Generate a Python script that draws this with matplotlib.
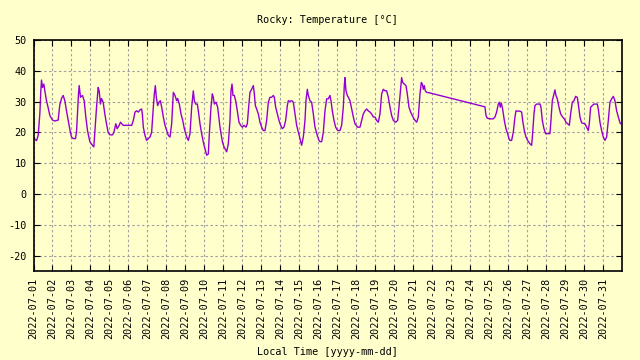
import matplotlib
matplotlib.use("Agg")
import matplotlib.pyplot as plt
import matplotlib.dates as mdates
import matplotlib.ticker as mticker
import pandas as pd

# fractional days since 2022-07-01 00:00 (local time)
day_offset = [
    0.000, 0.070, 0.158, 0.246, 0.333, 0.386, 0.421, 0.474, 0.544, 0.596, 0.684, 0.772, 0.860,
    1.000, 1.123, 1.298, 1.386, 1.474, 1.561, 1.649, 1.737, 1.825, 1.912,
    2.000, 2.088, 2.211, 2.263, 2.316, 2.368, 2.404, 2.474, 2.579, 2.667, 2.754, 2.842, 2.965,
    3.105, 3.175, 3.246, 3.316, 3.404, 3.456, 3.526, 3.579, 3.667, 3.754, 3.842, 3.930,
    4.018, 4.158, 4.228, 4.333, 4.404, 4.509, 4.579, 4.719, 4.982,
    5.167, 5.255, 5.342, 5.430, 5.518, 5.605, 5.693, 5.728, 5.781, 5.869, 5.956,
    6.044, 6.132, 6.219, 6.307, 6.360, 6.412, 6.465, 6.535, 6.605, 6.676, 6.746, 6.834, 6.921,
    7.009, 7.097, 7.184, 7.272, 7.360, 7.447, 7.535, 7.588, 7.676, 7.763, 7.851, 7.939,
    8.062, 8.149, 8.237, 8.325, 8.412, 8.465, 8.535, 8.623, 8.675, 8.763, 8.851, 8.956,
    9.027, 9.114, 9.202, 9.255, 9.342, 9.412, 9.465, 9.518, 9.605, 9.693, 9.816, 9.939,
    10.027, 10.079, 10.167, 10.255, 10.342, 10.395, 10.448, 10.500, 10.570, 10.640, 10.728, 10.816, 10.904, 10.991,
    11.079, 11.184, 11.254, 11.325, 11.395, 11.483, 11.570, 11.623, 11.676, 11.746, 11.834, 11.921,
    12.009, 12.097, 12.184, 12.272, 12.360, 12.447, 12.535, 12.623, 12.676, 12.746, 12.834, 12.921,
    13.009, 13.097, 13.184, 13.272, 13.360, 13.412, 13.500, 13.588, 13.676, 13.763, 13.851, 13.939,
    14.027, 14.114, 14.202, 14.290, 14.342, 14.412, 14.465, 14.553, 14.640, 14.728, 14.816, 14.939,
    15.027, 15.079, 15.167, 15.255, 15.342, 15.430, 15.518, 15.605, 15.658, 15.728, 15.816, 15.904,
    16.009, 16.132, 16.219, 16.307, 16.360, 16.395, 16.447, 16.518, 16.570, 16.658, 16.746, 16.834, 16.921,
    17.061, 17.184, 17.272, 17.360, 17.447, 17.535, 17.623, 17.711, 17.798, 17.886, 17.974,
    18.061, 18.149, 18.237, 18.325, 18.412, 18.500, 18.588, 18.676, 18.763, 18.851, 18.939,
    19.061, 19.167, 19.237, 19.325, 19.377, 19.430, 19.518, 19.605, 19.675, 19.763, 19.851, 19.939,
    20.027, 20.079, 20.167, 20.255, 20.342, 20.412, 20.465, 20.518, 20.570, 20.623, 20.693, 20.868,
    23.763, 23.816, 23.886, 24.027, 24.202, 24.290, 24.377, 24.465, 24.518, 24.570, 24.623, 24.693, 24.781, 24.868, 24.956,
    25.027, 25.079, 25.167, 25.255, 25.342, 25.395, 25.483, 25.605, 25.693, 25.746, 25.834, 25.921,
    26.009, 26.132, 26.219, 26.272, 26.342, 26.395, 26.483, 26.570, 26.658, 26.711, 26.781, 26.868, 26.956,
    27.184, 27.237, 27.307, 27.395, 27.447, 27.500, 27.570, 27.658, 27.746, 27.851, 27.939,
    28.027, 28.114, 28.202, 28.272, 28.360, 28.447, 28.535, 28.623, 28.675, 28.763, 28.851,
    29.027, 29.114, 29.202, 29.254, 29.325, 29.412, 29.500, 29.588, 29.676, 29.728, 29.816, 29.904, 29.991,
    30.079, 30.167, 30.255, 30.342, 30.430, 30.518, 30.605, 30.693, 30.781, 30.869, 30.921,
]

temperature = [
    18.5, 17.8, 17.3, 19.0, 26.0, 33.5, 37.0, 34.6, 35.7, 33.5, 30.3, 28.0, 25.5,
    24.0, 23.7, 24.0, 29.0, 31.0, 32.0, 30.3, 27.0, 24.0, 21.0,
    18.5, 18.0, 18.0, 20.0, 26.0, 32.5, 35.2, 31.4, 32.0, 30.3, 25.0, 20.6, 17.0,
    15.8, 15.3, 21.7, 28.0, 34.6, 33.5, 29.2, 31.0, 29.8, 26.0, 22.8, 20.0,
    19.2, 19.2, 20.0, 22.8, 21.2, 22.3, 23.3, 22.3, 22.3,
    22.3, 23.9, 26.6, 27.0, 26.6, 27.3, 27.6, 26.0, 21.7, 19.0, 17.4,
    18.0, 18.5, 20.1, 28.2, 32.5, 35.2, 31.4, 28.7, 29.8, 30.3, 28.2, 25.0, 22.3,
    20.6, 19.0, 18.5, 22.8, 33.0, 32.0, 30.3, 31.0, 29.2, 26.0, 24.0, 21.2,
    18.5, 17.4, 19.6, 28.2, 33.5, 30.3, 29.2, 29.2, 27.0, 22.8, 19.6, 16.3,
    14.7, 12.6, 13.0, 19.6, 28.2, 32.5, 31.4, 29.2, 29.8, 28.2, 21.7, 17.0,
    15.3, 14.7, 13.7, 16.3, 24.0, 33.5, 35.7, 32.0, 32.0, 30.3, 27.0, 23.3, 22.3, 21.7,
    22.3, 21.7, 22.8, 28.2, 33.0, 34.0, 35.2, 32.5, 28.7, 27.6, 26.0, 23.3,
    21.7, 20.6, 20.6, 23.9, 29.8, 31.4, 31.4, 32.0, 31.4, 28.2, 26.0, 23.9,
    22.3, 21.2, 21.7, 23.9, 28.7, 30.3, 30.1, 30.3, 29.8, 26.0, 22.3, 20.1,
    18.0, 15.8, 18.5, 23.9, 30.3, 34.0, 32.0, 30.3, 29.8, 26.0, 21.7, 19.0,
    17.4, 17.0, 17.0, 20.1, 27.0, 30.9, 30.9, 32.0, 30.3, 27.0, 23.9, 21.7,
    20.6, 20.6, 22.3, 28.2, 35.2, 37.8, 33.5, 32.0, 31.4, 30.3, 27.6, 25.0, 22.8,
    21.7, 21.7, 23.9, 26.0, 27.0, 27.6, 27.0, 26.6, 26.0, 25.0, 25.0,
    23.9, 23.3, 26.0, 32.5, 34.0, 33.5, 33.5, 31.4, 28.2, 25.5, 23.9,
    23.3, 23.9, 28.2, 34.0, 37.8, 36.2, 35.7, 35.2, 32.5, 28.2, 26.6, 25.5,
    24.4, 23.9, 23.3, 25.0, 32.5, 36.2, 35.7, 34.0, 35.2, 33.5, 33.0, 32.8,
    28.3, 25.5, 24.6, 24.4, 24.4, 25.0, 26.6, 29.2, 29.8, 28.2, 29.5, 27.6, 23.9, 21.2, 19.6,
    18.0, 17.4, 17.4, 20.1, 25.0, 27.0, 26.9, 26.9, 26.6, 23.9, 20.6, 18.5,
    17.4, 16.3, 15.8, 19.6, 26.0, 28.7, 29.2, 29.2, 29.2, 28.2, 23.9, 21.2, 19.6,
    19.6, 23.9, 30.3, 32.5, 33.8, 32.0, 30.9, 28.2, 26.0, 25.0, 24.4,
    23.3, 22.8, 22.3, 26.0, 29.8, 30.3, 31.7, 31.4, 29.2, 25.0, 23.1,
    22.8, 21.7, 20.6, 22.8, 28.2, 28.7, 29.2, 29.2, 29.2, 27.6, 23.3, 20.6, 18.5,
    17.4, 18.5, 23.9, 29.8, 30.9, 31.7, 30.3, 27.0, 25.0, 23.1, 22.8,
]

start_date = "2022-07-01"
end_offset_days = 30.96
y_ticks = [-20, -10, 0, 10, 20, 30, 40, 50]
y_limits = (-25, 50)
title_text = "Rocky: Temperature [°C]"
xlabel_text = "Local Time [yyyy-mm-dd]"

bg = "#ffffcc"
line_color = "#9400d3"
grid_color = "#a0a0a0"
font = "DejaVu Sans Mono"
fs = 7.3

t0 = pd.Timestamp(start_date)
times = t0 + pd.to_timedelta(day_offset, unit="D")

fig = plt.figure(figsize=(6.4, 3.6), dpi=100, facecolor=bg)
ax = fig.add_axes([33.5 / 640, 1 - 271 / 360, (621.7 - 33.5) / 640, (271 - 40) / 360])
ax.set_facecolor(bg)

ax.plot(times, temperature, color=line_color, linewidth=1.0)

ax.set_xlim(t0, t0 + pd.Timedelta(days=end_offset_days))
ax.set_ylim(*y_limits)
ax.set_yticks(y_ticks)
ax.yaxis.set_major_formatter(mticker.FuncFormatter(lambda v, p: f"{int(v)}"))

ax.xaxis.set_major_locator(mdates.DayLocator())
ax.xaxis.set_major_formatter(mdates.DateFormatter("%Y-%m-%d"))

ax.grid(True, color=grid_color, linestyle=(0, (2.2, 2.2)), linewidth=0.8)
ax.set_axisbelow(True)

ax.tick_params(direction="in", length=4, width=0.8, top=True, right=True,
               labelsize=fs, pad=5, color="black")
for lab in ax.get_xticklabels():
    lab.set_rotation(90)
    lab.set_fontfamily(font)
    lab.set_fontsize(fs)
for lab in ax.get_yticklabels():
    lab.set_fontfamily(font)
    lab.set_fontsize(fs)

for s in ax.spines.values():
    s.set_linewidth(1.2)
    s.set_color("black")

fig.text((33.5 + 621.7) / 2 / 640, 1 - 20 / 360, title_text, ha="center", va="center",
         fontfamily=font, fontsize=fs)
fig.text((33.5 + 621.7) / 2 / 640, 1 - 352 / 360, xlabel_text, ha="center", va="center",
         fontfamily=font, fontsize=fs)

fig.savefig("out.png", dpi=100, facecolor=bg)
